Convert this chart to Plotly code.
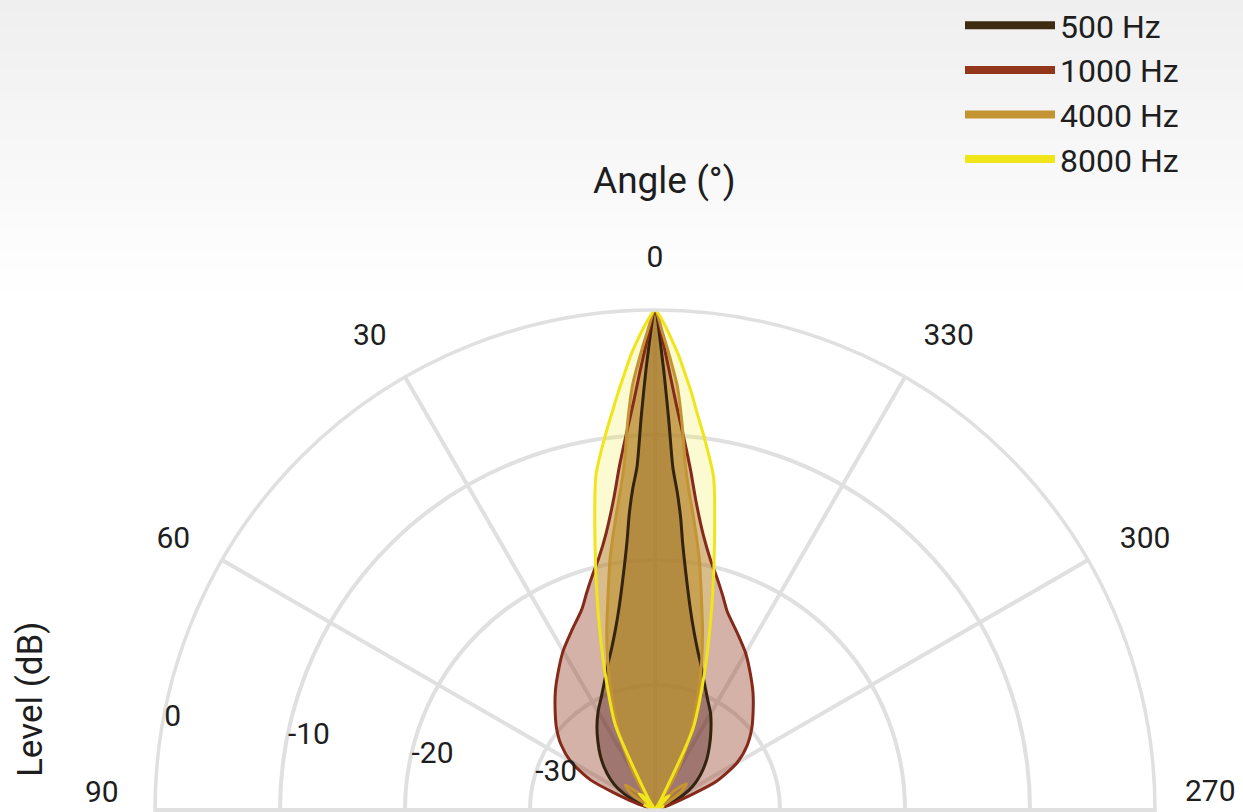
import plotly.graph_objects as go

# ---------------- data ----------------
theta = [-90, -85, -80, -75, -70, -65, -60, -55, -50, -45, -40, -35, -30, -25, -20,
         -17.5, -15, -12.5, -10, -7.5, -6, -5, -4, -3, -2, -1,
         0,
         1, 2, 3, 4, 5, 6, 7.5, 10, 12.5, 15, 17.5,
         20, 25, 30, 35, 40, 45, 50, 55, 60, 65, 70, 75, 80, 85, 90]

level_500 = [-40, -40, -40, -40, -39.6, -38.2, -36.9, -35.9, -35.0, -34.1, -33.2, -32.2, -31.1, -30.1, -28.7,
             -27.8, -26.8, -25.5, -23.7, -21.0, -18.7, -16.5, -14.5, -12.6, -8.7, -4.2,
             0,
             -4.0, -8.5, -12.5, -14.3, -16.3, -18.5, -20.8, -23.5, -25.3, -26.6, -27.6,
             -28.5, -29.9, -30.9, -31.9, -32.9, -33.8, -34.7, -35.6, -36.6, -38.0, -39.5, -40, -40, -40, -40]

level_1000 = [-40, -40, -40, -40, -38.6, -34.6, -32.4, -31.0, -29.9, -28.9, -27.8, -26.7, -25.5, -24.4, -23.1,
              -22.0, -20.8, -19.5, -17.7, -15.0, -12.7, -11.1, -9.4, -7.5, -5.2, -2.6,
              0,
              -2.5, -5.0, -7.3, -9.2, -10.9, -12.5, -14.8, -17.5, -19.3, -20.6, -21.8,
              -22.9, -24.2, -25.3, -26.5, -27.6, -28.7, -29.7, -30.8, -32.2, -34.3, -38.3, -40, -40, -40, -40]

level_4000 = [-40, -40, -40, -40, -40, -40, -39.4, -37.4, -36.7, -37.8, -40, -39.5, -36.6, -33.4, -29.8,
              -27.6, -25.3, -22.8, -19.6, -16.4, -14.2, -12.2, -9.0, -6.0, -4.0, -2.0,
              0,
              -1.9, -3.9, -5.9, -8.8, -12.0, -14.0, -16.2, -19.4, -22.6, -25.1, -27.4,
              -29.6, -33.2, -36.4, -39.3, -40, -38.0, -36.9, -37.6, -39.6, -40, -40, -40, -40, -40, -40]

level_8000 = [-40, -40, -40, -40, -40, -39.2, -40, -40, -40, -38.4, -38.8, -40, -39.2, -32.8, -28.5,
              -25.7, -22.2, -18.0, -13.0, -9.9, -8.0, -6.5, -5.1, -3.6, -2.3, -1.0,
              0,
              -1.0, -2.2, -3.5, -5.0, -6.4, -7.8, -9.7, -12.8, -17.8, -22.0, -25.5,
              -28.3, -32.5, -39.0, -40, -38.6, -38.2, -40, -40, -40, -39.0, -40, -40, -40, -40, -40]

series_names = ["500 Hz", "1000 Hz", "4000 Hz", "8000 Hz"]
series_levels = [level_500, level_1000, level_4000, level_8000]

# angular ticks in the subplot's own theta frame (-90..90); 90 / 270 are written as annotations
angle_tickvals = [-90, -60, -30, 0, 30, 60, 90]
angle_ticktext = ["", "300", "330", "0", "30", "60", ""]
side_labels = ["90", "270"]
level_tickvals = [-30, -20, -10, 0]
level_ticktext = ["-30", "-20", "-10", "0"]
level_range = [-40, 0]

# ---------------- styles ----------------
line_colors = ["#33230f", "#85291a", "#c49433", "#f0e41a"]
legend_colors = ["#3d2c12", "#93371c", "#c49433", "#f0e41a"]
fill_colors = ["rgba(48,14,36,0.40)", "rgba(143,52,27,0.38)",
               "rgba(170,118,40,0.52)", "rgba(240,228,26,0.20)"]
FONT = "Roboto, 'Open Sans', sans-serif"
TXT = "#1e1e1e"
GRID = "#e0e0e0"

W, H = 1243, 812
fig = go.Figure()

# fills first (all below every line)
for name, lv, fc in zip(series_names, series_levels, fill_colors):
    fig.add_trace(go.Scatterpolar(
        r=lv, theta=theta, mode="lines", name=name,
        line=dict(color="rgba(0,0,0,0)", width=0, shape="spline", smoothing=0.7),
        fill="toself", fillcolor=fc, showlegend=False, hoverinfo="skip"))

# outlines
for name, lv, lc in zip(series_names, series_levels, line_colors):
    fig.add_trace(go.Scatterpolar(
        r=lv, theta=theta, mode="lines", name=name,
        line=dict(color=lc, width=3, shape="spline", smoothing=0.7),
        showlegend=False, hoverinfo="skip"))

# legend-only entries (thick line samples)
for i, (name, lc) in enumerate(zip(series_names, legend_colors)):
    fig.add_trace(go.Scatterpolar(
        r=[None], theta=[None], mode="lines", name=name,
        line=dict(color=lc, width=8), legendgroup="g%d" % i, showlegend=True))

# background gradient at the top of the page
shapes = []
n = 30
for i in range(n):
    v = int(round(239 + 16 * i / (n - 1)))
    y0 = 1.05 if i == 0 else 1 - (i * 10) / H
    y1 = 1 - ((i + 1) * 10) / H
    shapes.append(dict(type="rect", xref="paper", yref="paper", x0=-0.02, x1=1.02, y0=y1, y1=y0,
                       fillcolor="rgb(%d,%d,%d)" % (v, v, v), line=dict(width=0), layer="below"))

cx, cy, R = 655, 810, 500
fig.update_layout(
    width=W, height=H,
    margin=dict(l=0, r=0, t=0, b=0, autoexpand=False),
    paper_bgcolor="white",
    plot_bgcolor="white",
    font=dict(family=FONT, color=TXT),
    shapes=shapes,
    polar=dict(
        domain=dict(x=[(cx - R) / W, (cx + R) / W], y=[(H - cy) / H, (H - cy + R) / H]),
        sector=[0, 180],
        bgcolor="white",
        angularaxis=dict(
            rotation=90, direction="counterclockwise",
            tickmode="array", tickvals=angle_tickvals, ticktext=angle_ticktext,
            showgrid=True, gridcolor=GRID, gridwidth=3.5,
            showline=True, linecolor=GRID, linewidth=3.5,
            ticks="outside", ticklen=29, tickcolor="rgba(0,0,0,0)",
            tickfont=dict(size=30, color=TXT, family=FONT),
        ),
        radialaxis=dict(
            range=level_range, tickmode="array", tickvals=level_tickvals, ticktext=level_ticktext,
            angle=171.5, tickangle=171.5, showline=False,
            ticks="outside", ticklen=4, tickcolor="rgba(0,0,0,0)",
            showgrid=True, gridcolor=GRID, gridwidth=3.5,
            tickfont=dict(size=30, color=TXT, family=FONT),
        ),
    ),
    legend=dict(
        x=960 / W, y=1 + 2 / H, xanchor="left", yanchor="top",
        bgcolor="rgba(0,0,0,0)", font=dict(size=32, color=TXT, family=FONT),
        itemwidth=90, tracegroupgap=0,
    ),
    annotations=[
        dict(text="Angle (°)", x=664 / W, y=1 - 180 / H, xref="paper", yref="paper",
             showarrow=False, xanchor="center", yanchor="middle",
             font=dict(size=37, color=TXT, family=FONT)),
        dict(text="Level (dB)", x=30 / W, y=1 - 700 / H, xref="paper", yref="paper",
             showarrow=False, xanchor="center", yanchor="middle", textangle=-90,
             font=dict(size=35, color=TXT, family=FONT)),
        dict(text=side_labels[0], x=102 / W, y=1 - 791 / H, xref="paper", yref="paper",
             showarrow=False, xanchor="center", yanchor="middle",
             font=dict(size=30, color=TXT, family=FONT)),
        dict(text=side_labels[1], x=1210 / W, y=1 - 790 / H, xref="paper", yref="paper",
             showarrow=False, xanchor="center", yanchor="middle",
             font=dict(size=30, color=TXT, family=FONT)),
    ],
)

fig.write_html("out.html", config={"displayModeBar": False},
               post_script="document.body.style.margin='0';document.body.style.overflow='hidden';")
